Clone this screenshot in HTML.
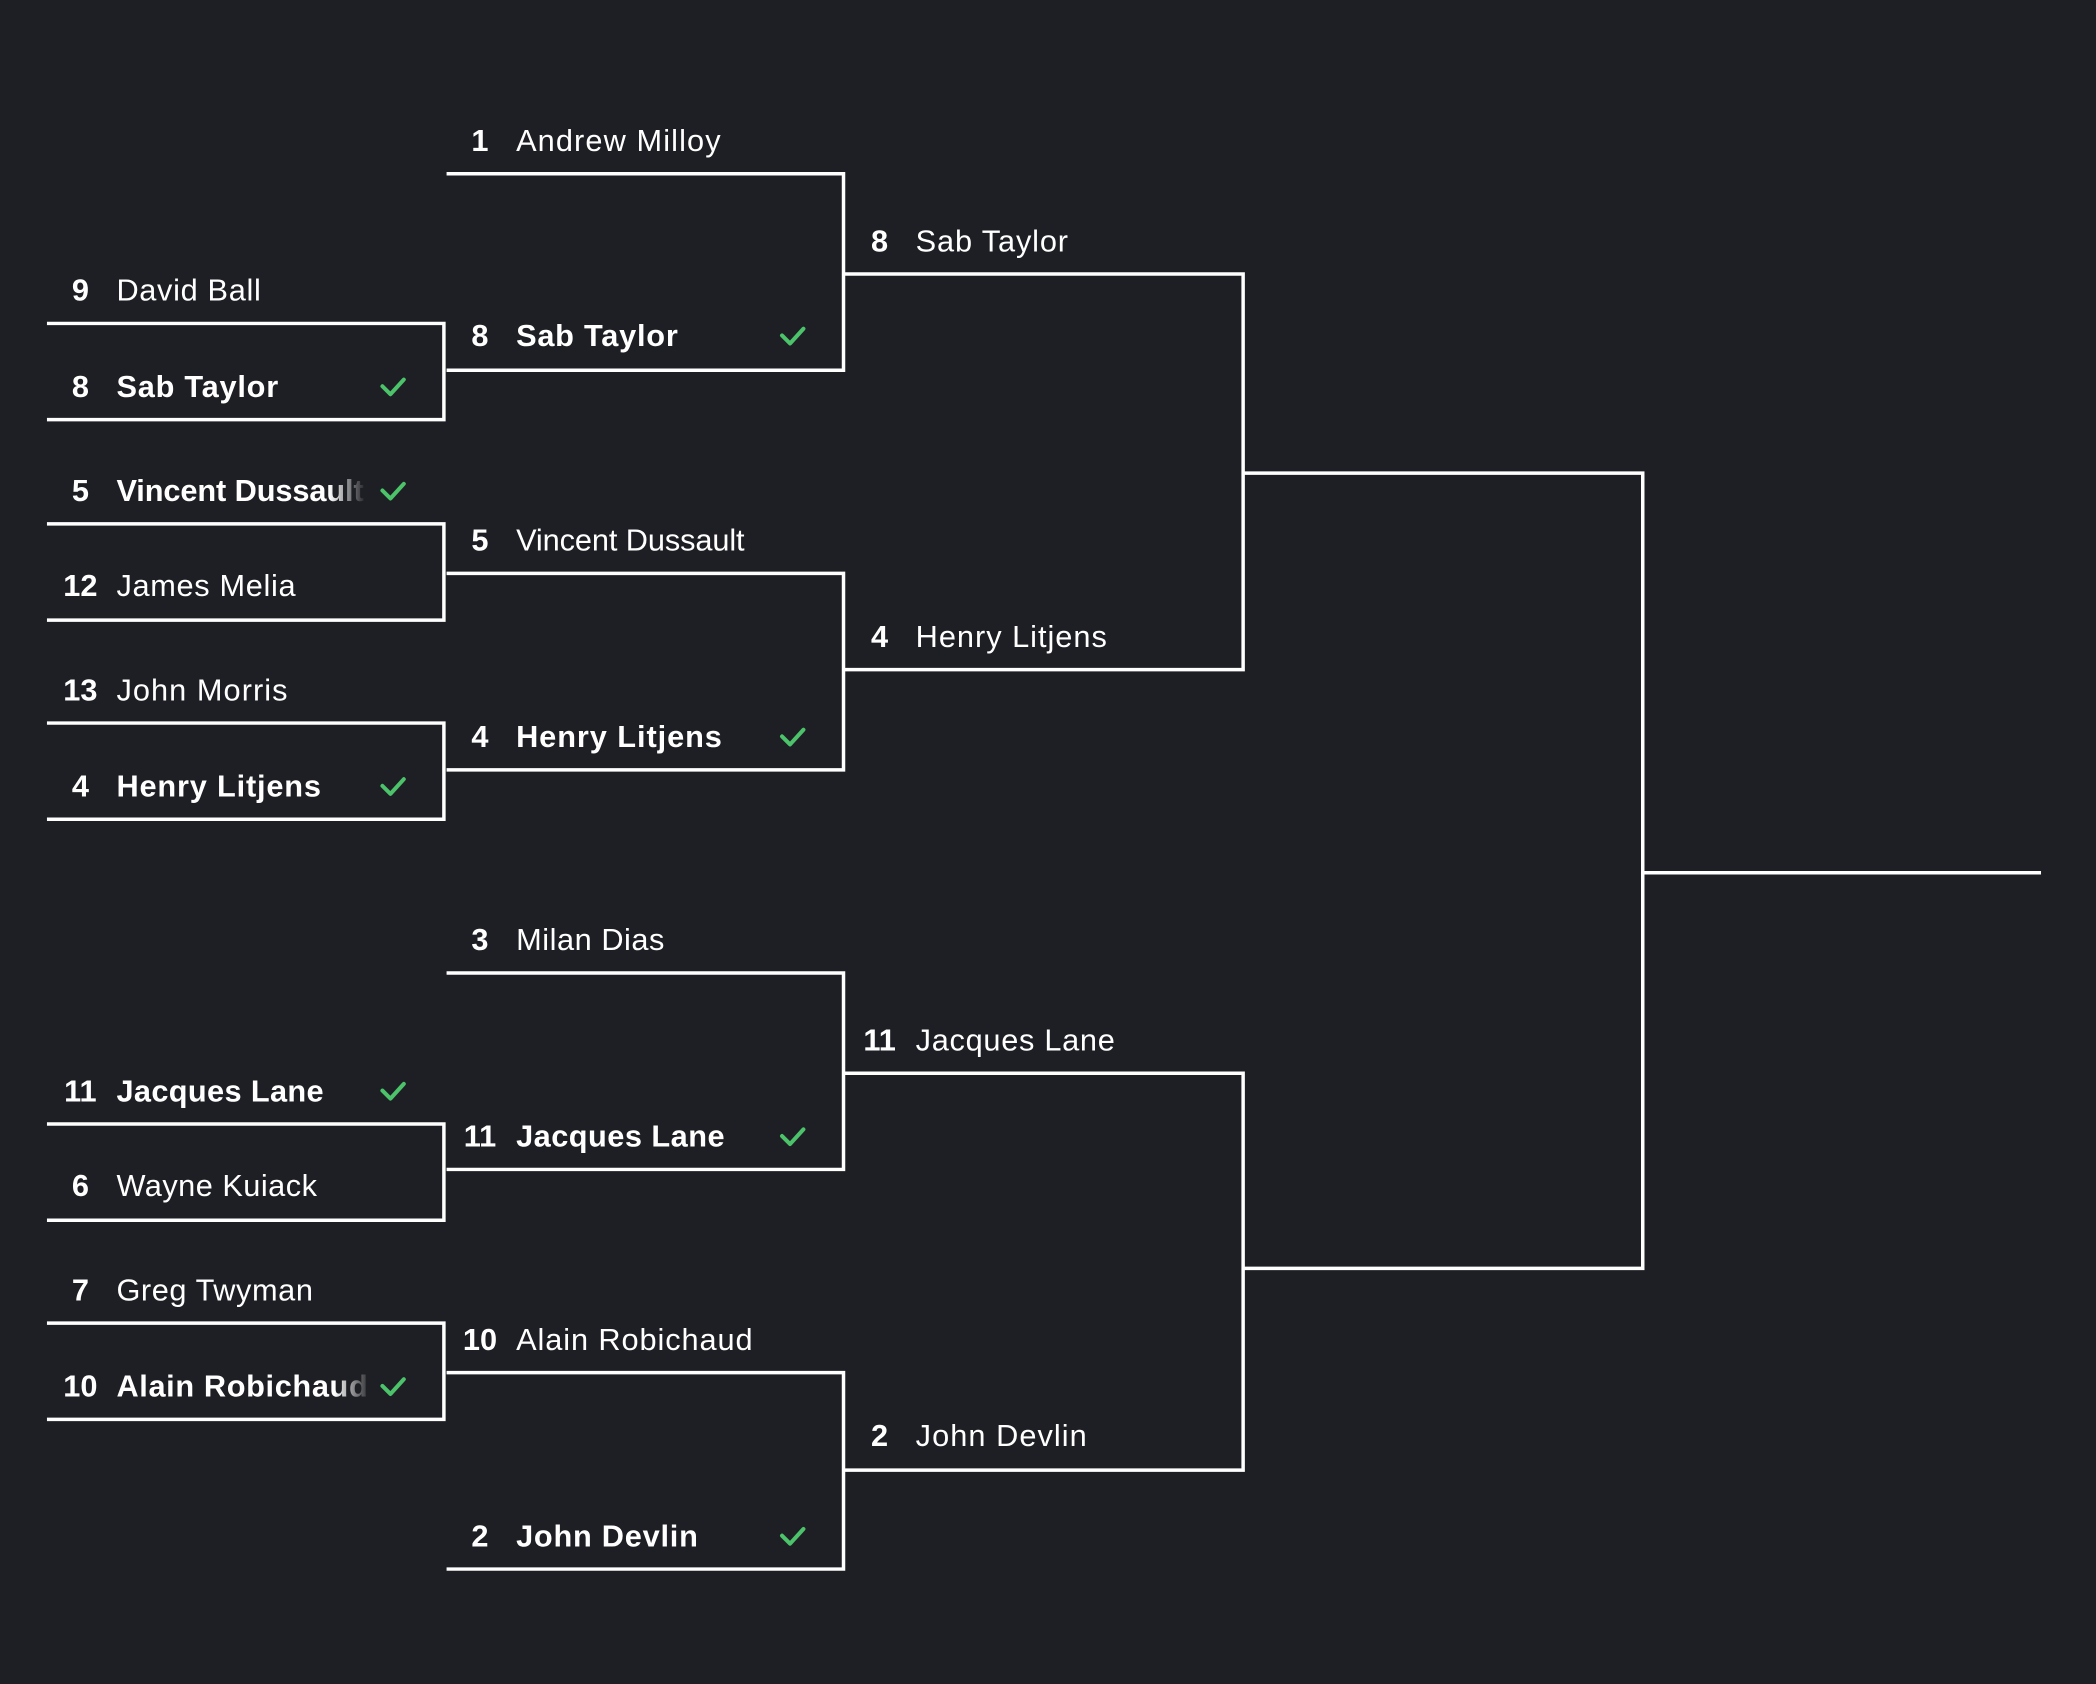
<!DOCTYPE html>
<html><head><meta charset="utf-8"><style>
html,body{margin:0;padding:0;background:#1e1f24;}
svg{display:block;}
text{font-family:"Liberation Sans",sans-serif;fill:#fff;font-size:23px;}
.b{font-weight:bold;}
.n{font-weight:bold;text-anchor:middle;}
</style></head><body>
<svg width="2096" height="1684" viewBox="0 0 1568 1260" xmlns="http://www.w3.org/2000/svg">
<defs>
<linearGradient id="fade" x1="0" x2="1" y1="0" y2="0">
<stop offset="0" stop-color="#1e1f24" stop-opacity="0"/>
<stop offset="1" stop-color="#1e1f24" stop-opacity="1"/>
</linearGradient>
</defs>
<rect width="1568" height="1260" fill="#1e1f24"/>
<g fill="none" stroke="#fff" stroke-width="2.6">
<path d="M35 242H332V314H35"/>
<path d="M35 392H332V464H35"/>
<path d="M35 541H332V613H35"/>
<path d="M35 841H332V913H35"/>
<path d="M35 990H332V1062H35"/>
<path d="M334 130H631V277H334"/>
<path d="M334 429H631V576H334"/>
<path d="M334 728H631V875H334"/>
<path d="M334 1027H631V1174H334"/>
<path d="M632 205H930V501H632"/>
<path d="M632 803H930V1100H632"/>
<path d="M931 354H1229V949H931"/>
<path d="M1230 653H1527"/>
</g>
<g transform="translate(0,-1)">
<text class="n" x="60" y="226">9</text><text x="87" y="226" textLength="108">David Ball</text>
<text class="n" x="60" y="298">8</text><text class="b" x="87" y="298" textLength="121">Sab Taylor</text>
<text class="n" x="60" y="376">5</text><text class="b" x="87" y="376" textLength="185">Vincent Dussault</text>
<text class="n" x="60" y="447">12</text><text x="87" y="447" textLength="134">James Melia</text>
<text class="n" x="60" y="525">13</text><text x="87" y="525" textLength="128">John Morris</text>
<text class="n" x="60" y="597">4</text><text class="b" x="87" y="597" textLength="153">Henry Litjens</text>
<text class="n" x="60" y="825">11</text><text class="b" x="87" y="825" textLength="155">Jacques Lane</text>
<text class="n" x="60" y="896">6</text><text x="87" y="896" textLength="150">Wayne Kuiack</text>
<text class="n" x="60" y="974">7</text><text x="87" y="974" textLength="147">Greg Twyman</text>
<text class="n" x="60" y="1046">10</text><text class="b" x="87" y="1046" textLength="188">Alain Robichaud</text>
<rect x="246" y="350" width="28" height="34" fill="url(#fade)"/>
<rect x="250" y="1020" width="28" height="34" fill="url(#fade)"/>
<text class="n" x="359" y="114">1</text><text x="386" y="114" textLength="153">Andrew Milloy</text>
<text class="n" x="359" y="260">8</text><text class="b" x="386" y="260" textLength="121">Sab Taylor</text>
<text class="n" x="359" y="413">5</text><text x="386" y="413" textLength="171">Vincent Dussault</text>
<text class="n" x="359" y="560">4</text><text class="b" x="386" y="560" textLength="154">Henry Litjens</text>
<text class="n" x="359" y="712">3</text><text x="386" y="712" textLength="111">Milan Dias</text>
<text class="n" x="359" y="859">11</text><text class="b" x="386" y="859" textLength="156">Jacques Lane</text>
<text class="n" x="359" y="1011">10</text><text x="386" y="1011" textLength="177">Alain Robichaud</text>
<text class="n" x="359" y="1158">2</text><text class="b" x="386" y="1158" textLength="136">John Devlin</text>
<text class="n" x="658" y="189">8</text><text x="685" y="189" textLength="114">Sab Taylor</text>
<text class="n" x="658" y="485">4</text><text x="685" y="485" textLength="143">Henry Litjens</text>
<text class="n" x="658" y="787">11</text><text x="685" y="787" textLength="149">Jacques Lane</text>
<text class="n" x="658" y="1083">2</text><text x="685" y="1083" textLength="128">John Devlin</text>
</g>
<g fill="none" stroke="#4cc26a" stroke-width="3" stroke-linecap="round" stroke-linejoin="round">
<path d="M286 289l6 6l10-11"/>
<path d="M286 367l6 6l10-11"/>
<path d="M286 588l6 6l10-11"/>
<path d="M286 816l6 6l10-11"/>
<path d="M286 1037l6 6l10-11"/>
<path d="M585 251l6 6l10-11"/>
<path d="M585 551l6 6l10-11"/>
<path d="M585 850l6 6l10-11"/>
<path d="M585 1149l6 6l10-11"/>
</g>
</svg>
</body></html>
